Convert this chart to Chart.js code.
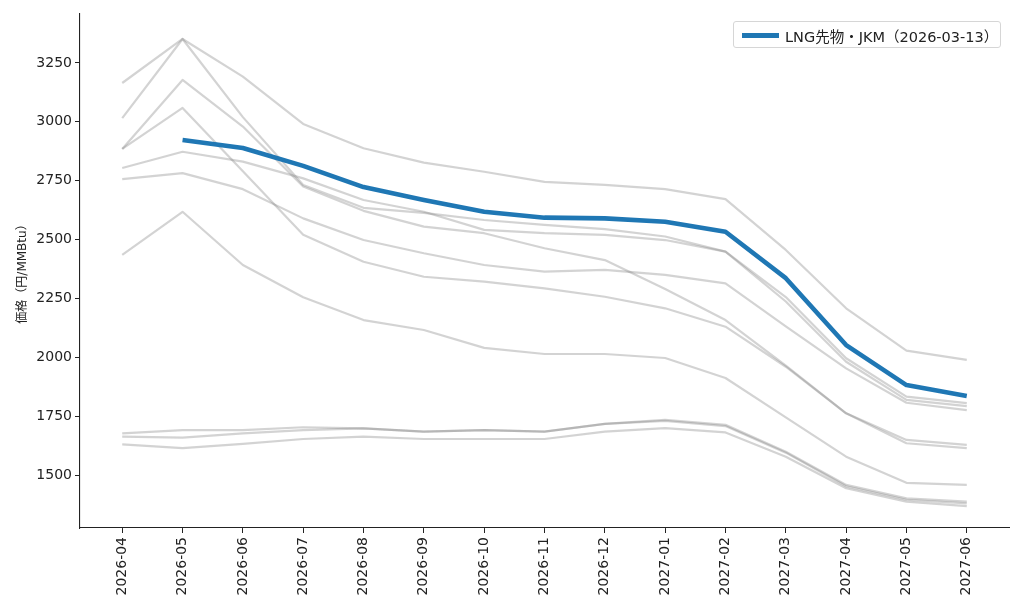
<!DOCTYPE html>
<html>
<head>
<meta charset="utf-8">
<script src="https://cdn.jsdelivr.net/npm/chart.js@4.4.1/dist/chart.umd.min.js"></script>
<style>
  body { margin: 0; background: #fff; }
  #wrap { position: relative; width: 1024px; height: 614px; }
  #legend {
    position: absolute; left: 733px; top: 21px; width: 268px; height: 27px;
    border: 1px solid #d6d6d6; border-radius: 3px; background: rgba(255,255,255,0.8);
    font-family: "DejaVu Sans", "Noto Sans CJK JP", sans-serif; font-size: 14.5px; color: #222;
    box-sizing: border-box;
  }
  #legend .swatch { position: absolute; left: 8px; top: 11px; width: 37px; height: 5px; background: #1f77b4; }
  #legend .txt { position: absolute; left: 51px; top: 3px; white-space: nowrap; }
</style>
</head>
<body>
<div id="wrap">
  <canvas id="chart" width="1024" height="614"></canvas>
  <div id="legend"><span class="swatch"></span><span class="txt">LNG先物・JKM（2026-03-13）</span></div>
</div>
<script>
const months = ["2026-04", "2026-05", "2026-06", "2026-07", "2026-08", "2026-09", "2026-10",
  "2026-11", "2026-12", "2027-01", "2027-02", "2027-03", "2027-04", "2027-05", "2027-06"];

// latest curve
const jkm = [null, 2923, 2889, 2813, 2723, 2668, 2618, 2593, 2590, 2576, 2533, 2336, 2052, 1882, 1836];

// older curves (gray)
const curve1 = [3165, 3352, 3192, 2991, 2888, 2827, 2788, 2745, 2732, 2714, 2672, 2456, 2208, 2028, 1989];
const curve2 = [3016, 3352, 3020, 2732, 2635, 2613, 2583, 2562, 2544, 2513, 2449, 2256, 1996, 1833, 1805];
const curve3 = [2885, 3178, 2980, 2725, 2622, 2555, 2527, 2463, 2413, 2290, 2158, 1965, 1762, 1649, 1628];
const curve4 = [2885, 3059, 2790, 2520, 2406, 2342, 2321, 2293, 2257, 2208, 2130, 1960, 1762, 1635, 1614];
const curve5 = [2804, 2873, 2831, 2760, 2668, 2618, 2541, 2527, 2520, 2498, 2449, 2237, 1981, 1819, 1793];
const curve6 = [2757, 2782, 2714, 2590, 2498, 2442, 2392, 2364, 2371, 2350, 2314, 2131, 1953, 1807, 1776];
const curve7 = [2435, 2618, 2392, 2255, 2158, 2116, 2040, 2014, 2014, 1997, 1912, 1745, 1578, 1467, 1458];
const curve8 = [1677, 1691, 1691, 1703, 1698, 1684, 1691, 1684, 1717, 1734, 1713, 1599, 1458, 1401, 1387];
const curve9 = [1663, 1659, 1677, 1691, 1698, 1684, 1691, 1684, 1717, 1730, 1708, 1595, 1452, 1395, 1380];
const curve10 = [1630, 1614, 1632, 1653, 1663, 1653, 1653, 1653, 1684, 1699, 1681, 1578, 1444, 1387, 1368];
const oldCurves = [curve1, curve2, curve3, curve4, curve5, curve6, curve7, curve8, curve9, curve10];

const yTicks = [1500, 1750, 2000, 2250, 2500, 2750, 3000, 3250];

function toPoints(arr) {
  return arr.map((v, i) => ({ x: i, y: v }));
}

const datasets = [{
  label: "LNG先物・JKM（2026-03-13）",
  data: toPoints(jkm),
  borderColor: "#1f77b4",
  borderWidth: 4.6,
  borderJoinStyle: "round",
  pointRadius: 0,
  order: 0
}];
oldCurves.forEach((c, k) => {
  datasets.push({
    label: "curve" + (k + 1),
    data: toPoints(c),
    borderColor: "rgba(128,128,128,0.35)",
    borderWidth: 2.2,
    borderJoinStyle: "round",
    pointRadius: 0,
    order: 1
  });
});

const tickFont = { family: "'DejaVu Sans', 'Noto Sans CJK JP', sans-serif", size: 14 };

new Chart(document.getElementById("chart"), {
  type: "line",
  data: { datasets: datasets },
  options: {
    responsive: false,
    animation: false,
    devicePixelRatio: 1,
    layout: { padding: { left: 0, top: 14, right: 15, bottom: 0 } },
    plugins: { legend: { display: false }, tooltip: { enabled: false } },
    elements: { line: { tension: 0 } },
    scales: {
      x: {
        type: "linear",
        min: -0.7,
        max: 14.7,
        afterBuildTicks: s => { s.ticks = months.map((m, i) => ({ value: i })); },
        afterFit: s => { s.height = 86; },
        ticks: {
          autoSkip: false,
          minRotation: 90,
          maxRotation: 90,
          padding: 4,
          color: "#222",
          font: tickFont,
          callback: v => months[v]
        },
        grid: { drawOnChartArea: false, tickLength: 5, color: "#222", tickWidth: 1 },
        border: { color: "#222", width: 1.1 }
      },
      y: {
        min: 1275,
        max: 3458,
        afterBuildTicks: s => { s.ticks = yTicks.map(v => ({ value: v })); },
        afterFit: s => { s.width = 80; },
        ticks: { padding: 3, color: "#222", font: tickFont, callback: v => String(v) },
        grid: { drawOnChartArea: false, tickLength: 5, color: "#222", tickWidth: 1 },
        border: { color: "#222", width: 1.1 },
        title: {
          display: true,
          text: "価格（円/MMBtu）",
          color: "#222",
          font: { family: "'DejaVu Sans', 'Noto Sans CJK JP', sans-serif", size: 12 },
          padding: { top: 16, bottom: 0 }
        }
      }
    }
  }
});
</script>
</body>
</html>
